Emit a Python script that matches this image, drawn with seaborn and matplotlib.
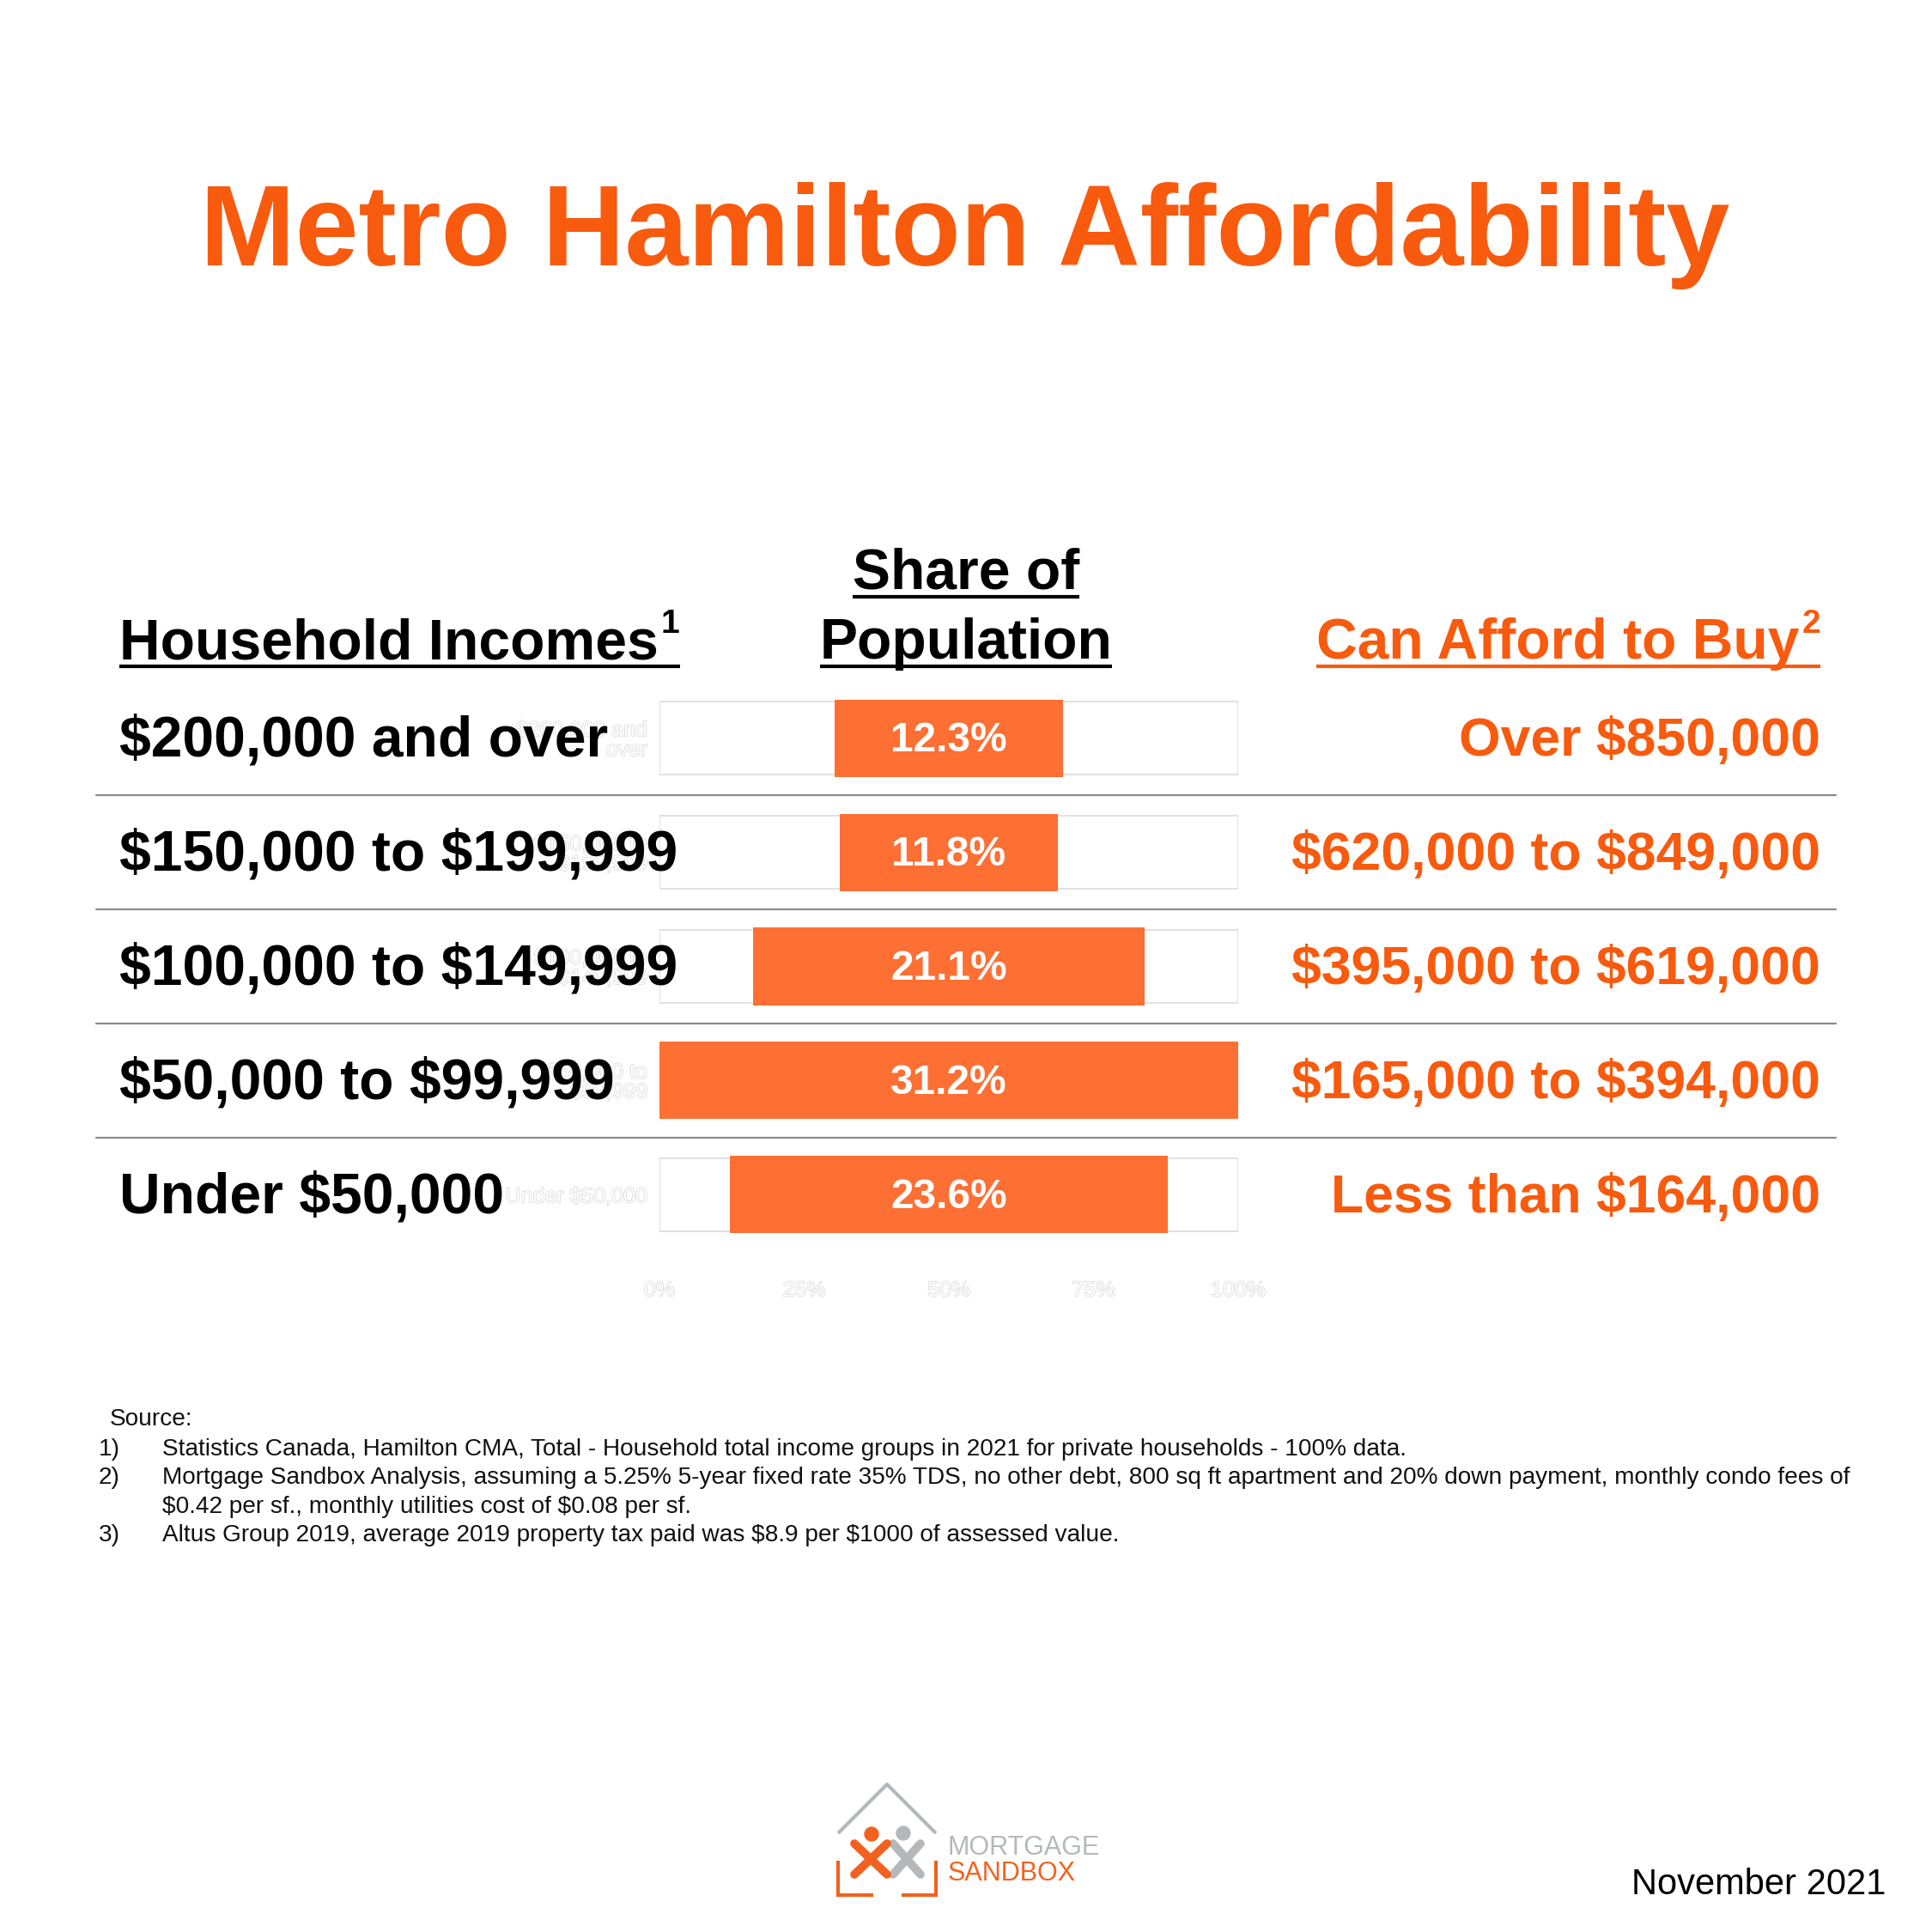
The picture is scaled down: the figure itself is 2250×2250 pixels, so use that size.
import textwrap
import numpy as np
import pandas as pd
import matplotlib
matplotlib.use("Agg")
import matplotlib.pyplot as plt
import seaborn as sns
from matplotlib import patheffects as pe
from matplotlib.transforms import blended_transform_factory, offset_copy
from matplotlib.patches import Circle

# ---------------- data ----------------
incomes = ["$200,000 and over", "$150,000 to $199,999", "$100,000 to $149,999",
           "$50,000 to $99,999", "Under $50,000"]
share = [12.3, 11.8, 21.1, 31.2, 23.6]
afford = ["Over $850,000", "$620,000 to $849,000", "$395,000 to $619,000",
          "$165,000 to $394,000", "Less than $164,000"]
xticks = [0, 25, 50, 75, 100]
xtick_labels = ["0%", "25%", "50%", "75%", "100%"]
title = "Metro Hamilton Affordability"
footnote_nums = ["1)", "2)", "", "3)"]
footnote_texts = [
    "Statistics Canada, Hamilton CMA, Total - Household total income groups in 2021 for private households - 100% data.",
    "Mortgage Sandbox Analysis, assuming a 5.25% 5-year fixed rate 35% TDS, no other debt, 800 sq ft apartment and 20% down payment, monthly condo fees of",
    "$0.42 per sf., monthly utilities cost of $0.08 per sf.",
    "Altus Group 2019, average 2019 property tax paid was $8.9 per $1000 of assessed value.",
]
date_text = "November 2021"

ORANGE = "#F85A0E"
BAR = "#FD6F33"

sns.set_theme(style="white")
plt.rcParams["font.family"] = ["Liberation Sans", "DejaVu Sans"]
plt.rcParams["text.parse_math"] = False

W = H = 2250
fig = plt.figure(figsize=(22.5, 22.5), dpi=100, facecolor="white")

# ---------------- bar axes ----------------
ax_top, ax_bot = 793.6, 1457.4
ax = fig.add_axes([768 / W, 1 - ax_bot / H, (1442 - 768) / W, (ax_bot - ax_top) / H])
ax.set_facecolor("none")

df = pd.DataFrame({"income": incomes, "share": share})
df["scaled"] = df["share"] / df["share"].max() * 100
df["full"] = 100.0

sns.barplot(data=df, x="full", y="income", orient="h", color="white",
            edgecolor="#dcdcdc", linewidth=1.2, width=0.64, saturation=1, ax=ax)
n0 = len(ax.patches)
sns.barplot(data=df, x="scaled", y="income", orient="h", color=BAR,
            width=0.68, saturation=1, linewidth=0, ax=ax)
bars = ax.patches[n0:]
for p in bars:
    p.set_x(50 - p.get_width() / 2)

ax.set_xlim(0, 100)
ax.set_ylim(len(incomes) - 0.5, -0.5)
ax.set_xticks(xticks)
ax.set_xticklabels(xtick_labels)
ax.set_yticks(range(len(incomes)))
ax.set_yticklabels([textwrap.fill(s, 13) for s in incomes])
ax.set_xlabel("")
ax.set_ylabel("")
ax.grid(False)
for s in ax.spines.values():
    s.set_visible(False)
ax.tick_params(axis="both", length=0)
ax.tick_params(axis="y", pad=10)
ax.tick_params(axis="x", pad=24)
ghost = [pe.withStroke(linewidth=0.9, foreground="#d2d2d2")]
for t in ax.get_xticklabels() + ax.get_yticklabels():
    t.set_color("white")
    t.set_fontsize(18)
    t.set_path_effects(ghost)
for t in ax.get_yticklabels():
    t.set_linespacing(0.95)

for p, v in zip(bars, share):
    ax.text(50, p.get_y() + p.get_height() / 2, f"{v:.1f}%", ha="center", va="center",
            color="white", fontsize=34.5, fontweight="bold",
            transform=offset_copy(ax.transData, fig=fig, y=-3, units="dots"))

# ---------------- overlay axes (pixel coords) ----------------
bg = fig.add_axes([0, 0, 1, 1], zorder=5)
bg.set_xlim(0, W)
bg.set_ylim(H, 0)
bg.axis("off")
tr = blended_transform_factory(bg.transData, ax.transData)
tr_lab = offset_copy(tr, fig=fig, y=-4, units="dots")

bg.text(1124, 309, title, ha="center", va="baseline", fontsize=95.7,
        fontweight="bold", color=ORANGE)

for i, (lab, aff) in enumerate(zip(incomes, afford)):
    bg.text(139, i, lab, transform=tr_lab, ha="left", va="center", fontsize=47.5,
            fontweight="bold", color="black")
    bg.text(2120, i, aff, transform=tr_lab, ha="right", va="center", fontsize=45,
            fontweight="bold", color=ORANGE)
for i in range(len(incomes) - 1):
    bg.plot([112, 2138], [i + 0.5, i + 0.5], transform=tr, color="#8c8c8c",
            lw=1.6, clip_on=False)

# headers
HS = 47.5
h1 = bg.text(139, 767, "Household Incomes", ha="left", va="baseline",
             fontsize=HS, fontweight="bold", color="black")
s2 = bg.text(2120, 737, "2", ha="right", va="baseline", fontsize=28,
             fontweight="bold", color=ORANGE)
sh1 = bg.text(1125, 686, "Share of", ha="center", va="baseline", fontsize=HS,
              fontweight="bold", color="black")
sh2 = bg.text(1125, 767, "Population", ha="center", va="baseline", fontsize=HS,
              fontweight="bold", color="black")
fig.canvas.draw()
r = fig.canvas.get_renderer()
inv = bg.transData.inverted()


def ext(t):
    bb = t.get_window_extent(r)
    (x0, y0), (x1, y1) = inv.transform([[bb.x0, bb.y0], [bb.x1, bb.y1]])
    return x0, x1


x0, x1 = ext(h1)
s1 = bg.text(x1 + 3, 737, "1", ha="left", va="baseline", fontsize=28,
             fontweight="bold", color="black")
fig.canvas.draw()
_, sx1 = ext(s1)
bg.plot([139, sx1], [776, 776], color="black", lw=3, solid_capstyle="butt")

sx0, _ = ext(s2)
c1 = bg.text(sx0 - 3, 767, "Can Afford to Buy", ha="right", va="baseline",
             fontsize=HS, fontweight="bold", color=ORANGE)
fig.canvas.draw()
cx0, _ = ext(c1)
bg.plot([cx0, 2120], [776, 776], color=ORANGE, lw=3, solid_capstyle="butt")

a, b = ext(sh1)
bg.plot([a, b], [695, 695], color="black", lw=3, solid_capstyle="butt")
a, b = ext(sh2)
bg.plot([a, b], [776, 776], color="black", lw=3, solid_capstyle="butt")

# footnotes
FS = 20.2
bg.text(128, 1653, "Source:", ha="left", va="center", fontsize=FS, color="#111111")
for y, num, txt in zip([1688, 1721, 1755, 1788], footnote_nums, footnote_texts):
    if num:
        bg.text(115, y, num, ha="left", va="center", fontsize=FS, color="#111111")
    bg.text(189, y, txt, ha="left", va="center", fontsize=FS, color="#111111")

bg.text(2196, 2206, date_text, ha="right", va="baseline", fontsize=30, color="black")

# logo
GRAY = "#B5B8BB"
LOR = "#F2611F"
bg.plot([976, 1033, 1090], [2135, 2078, 2135], color=GRAY, lw=3, solid_capstyle="butt")
bg.plot([976, 976, 1017], [2167, 2207, 2207], color=LOR, lw=3, solid_capstyle="butt",
        solid_joinstyle="miter")
bg.plot([1050, 1090, 1090], [2207, 2207, 2167], color=LOR, lw=3, solid_capstyle="butt",
        solid_joinstyle="miter")
bg.plot([1040, 1072], [2147, 2183], color=GRAY, lw=7, solid_capstyle="round")
bg.plot([1072, 1040], [2147, 2183], color=GRAY, lw=7, solid_capstyle="round")
bg.add_patch(Circle((1052, 2135), 8, color=GRAY))
bg.plot([995, 1033], [2147, 2183], color=LOR, lw=7, solid_capstyle="round")
bg.plot([1033, 995], [2147, 2183], color=LOR, lw=7, solid_capstyle="round")
bg.add_patch(Circle((1015, 2136), 8, color=LOR))
bg.text(1104, 2160, "MORTGAGE", ha="left", va="baseline", fontsize=22, color=GRAY)
bg.text(1104, 2190, "SANDBOX", ha="left", va="baseline", fontsize=22, color=LOR)

fig.savefig("out.png", dpi=100, facecolor="white")
